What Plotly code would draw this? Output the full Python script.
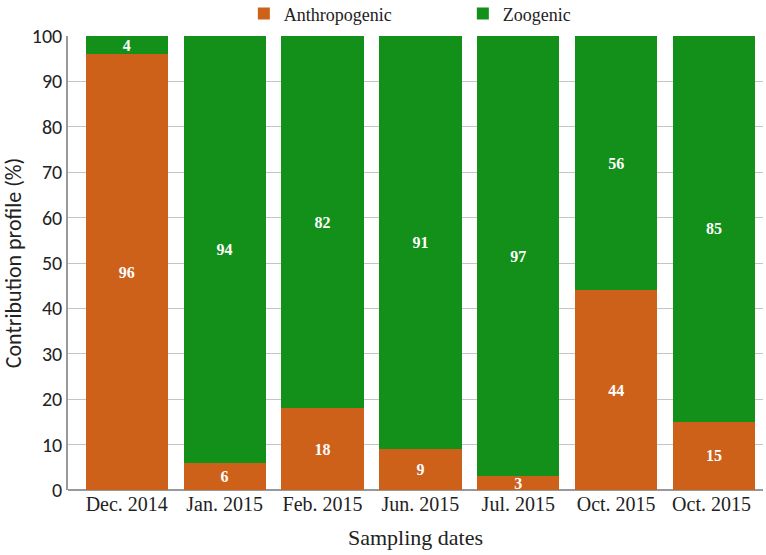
import plotly.graph_objects as go

dates = ["Dec. 2014", "Jan. 2015", "Feb. 2015", "Jun. 2015", "Jul. 2015", "Oct. 2015", "Oct. 2015 "]
anthropogenic = [96, 6, 18, 9, 3, 44, 15]
zoogenic = [4, 94, 82, 91, 97, 56, 85]

ORANGE = "#CD611A"
GREEN = "#12901A"
SERIF = "Liberation Serif"
SANS = "Carlito, Liberation Sans Narrow, Liberation Sans"

fig = go.Figure()
for name, vals, col in [("Anthropogenic", anthropogenic, ORANGE), ("Zoogenic", zoogenic, GREEN)]:
    fig.add_trace(go.Bar(
        x=dates, y=vals, name=name,
        marker=dict(color=col, line=dict(width=0)),
        text=[str(v) for v in vals], textposition="inside", textangle=0,
        insidetextanchor="middle", constraintext="none",
        textfont=dict(color="white", family=SERIF, size=16, weight="bold"),
    ))

fig.update_layout(
    barmode="stack",
    bargap=0.16,
    width=766, height=555,
    margin=dict(l=68, r=3, t=36, b=65, autoexpand=False),
    paper_bgcolor="white", plot_bgcolor="white",
    font=dict(family=SERIF, size=18, color="#222"),
    legend=dict(orientation="h", x=0.253, xanchor="left",
                yref="container", y=0.975, yanchor="middle",
                font=dict(size=18), traceorder="normal", entrywidth=174,
                bgcolor="rgba(0,0,0,0)"),
    xaxis=dict(
        title=dict(text="Sampling dates", font=dict(size=22), standoff=15),
        range=[-0.6, 6.5],
        showline=False, ticks="", tickfont=dict(size=20),
    ),
    yaxis=dict(
        title=dict(text="Contribution profile (%)", font=dict(size=22, family=SANS), standoff=6),
        range=[0, 100], dtick=10, tickfont=dict(size=20, family=SANS),
        showgrid=True, gridcolor="#C4C4C4", gridwidth=1,
        showline=True, linecolor="#999999", linewidth=1.5,
        zeroline=True, zerolinecolor="#999999", ticks="",
    ),
)

fig.write_html("out.html")
